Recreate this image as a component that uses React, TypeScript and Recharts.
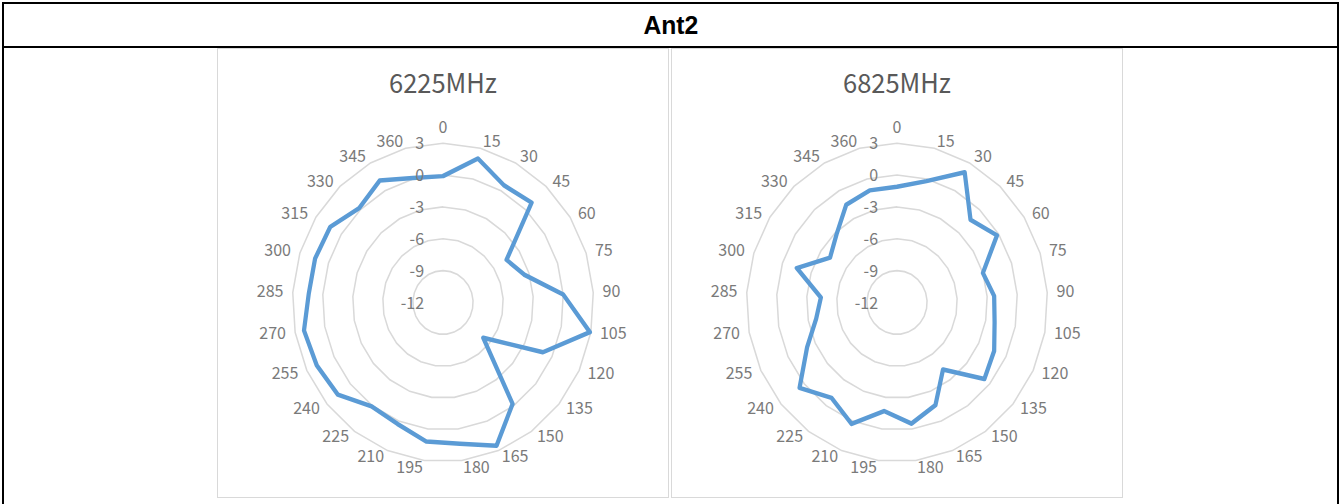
import React from 'react';
import { RadarChart, Radar, PolarGrid, PolarAngleAxis, PolarRadiusAxis } from 'recharts';

const tableTitle = 'Ant2';
const chartTitles = ['6225MHz', '6825MHz'];
const angleLabels = ['0', '15', '30', '45', '60', '75', '90', '105', '120', '135', '150', '165', '180', '195', '210', '225', '240', '255', '270', '285', '300', '315', '330', '345', '360'];
const gain6225 = [-0.1, 2.0, 0.6, 0.9, -4.5, -3.5, 0.0, 2.9, -1.0, -6.8, -0.2, 2.5, 1.4, 1.2, 0.3, 0.1, 1.6, 1.9, 2.1, 1.4, 1.4, 1.3, 0.2, 1.1, 0.1];
const gain6825 = [-1.1, -0.2, 2.0, -1.3, -0.2, -3.0, -2.3, -2.1, -1.3, -0.7, -4.2, -1.6, -0.5, -1.7, 0.3, -0.9, 0.6, -2.1, -3.8, -4.4, -1.5, -4.1, -3.2, -1.5, -1.1];
const radiusTicks = [-12, -9, -6, -3, 0, 3];

const SX = 0.945;
const PANEL_W = 452;
const PANEL_H = 450;
const CHART_W = Math.round(PANEL_W / SX);
const CX = 226 / SX;
const CY = 254.5;
const R = 159.3;
const FONT = "'Noto Sans CJK SC', 'Noto Sans', sans-serif";
const LABEL_FS = 17;
const LABEL_COLOR = '#7a7a7a';

function AngleTick(props: any) {
  const coord = props.payload?.coordinate ?? 90;
  const rad = (coord * Math.PI) / 180;
  const ux = Math.cos(rad);
  const uy = -Math.sin(rad);
  let x: number;
  let yc: number;
  let anchor: 'start' | 'end' | 'middle';
  if (Math.abs(ux) < 0.01) {
    x = CX;
    yc = CY + uy * (R + 16.5);
    anchor = 'middle';
  } else {
    x = CX + (R + 9.8) * ux;
    yc = CY + (R + 7) * uy - 0.8;
    anchor = ux > 0 ? 'start' : 'end';
  }
  return (
    <text x={x} y={yc + 0.36 * LABEL_FS} textAnchor={anchor} fontSize={LABEL_FS} fill={LABEL_COLOR} fontFamily={FONT} fontWeight={400}>
      {props.payload?.value}
    </text>
  );
}

function RadiusTick(props: any) {
  return (
    <text x={props.x - 20} y={props.y + 0.36 * LABEL_FS} textAnchor="end" fontSize={LABEL_FS} fill={LABEL_COLOR} fontFamily={FONT} fontWeight={400}>
      {props.payload?.value}
    </text>
  );
}

function Panel({ title, values, left }: { title: string; values: number[]; left: number }) {
  const data = angleLabels.map((a, i) => ({ angle: a, gain: values[i] }));
  return (
    <div style={{ position: 'absolute', left, top: 48, width: PANEL_W, height: PANEL_H, border: '1px solid #d9d9d9', boxSizing: 'border-box', overflow: 'hidden' }}>
      <div style={{ position: 'absolute', left: -1, top: -1, width: CHART_W, height: PANEL_H, transform: `scaleX(${SX})`, transformOrigin: '0 0' }}>
        <svg width={CHART_W} height={60} style={{ position: 'absolute', left: 0, top: 0 }}>
          <text x={CX} y={35 + 0.36 * 27} textAnchor="middle" fontSize={27} fill="#595959" fontFamily={FONT} fontWeight={400}>
            {title}
          </text>
        </svg>
        <div style={{ position: 'absolute', left: 0, top: 0 }}>
          <RadarChart width={CHART_W} height={PANEL_H} data={data} cx={CX} cy={CY} outerRadius={R} startAngle={90} endAngle={-270} margin={{ top: 0, right: 0, bottom: 0, left: 0 }}>
            <PolarGrid gridType="polygon" radialLines={false} stroke="#d9d9d9" strokeWidth={1.6} />
            <PolarAngleAxis dataKey="angle" tick={<AngleTick />} tickLine={false} axisLine={false} />
            <PolarRadiusAxis angle={90} type="number" domain={[-12, 3]} ticks={radiusTicks} tick={<RadiusTick />} tickLine={false} axisLine={false} allowDataOverflow />
            <Radar dataKey="gain" stroke="#5b9bd5" strokeWidth={4.5} fill="none" fillOpacity={0} dot={false} isAnimationActive={false} strokeLinejoin="round" />
          </RadarChart>
        </div>
      </div>
    </div>
  );
}

export default function App() {
  return (
    <div style={{ position: 'absolute', left: 0, top: 0, width: 1341, height: 504, background: '#fff', overflow: 'hidden' }}>
      <div style={{ position: 'absolute', left: 2, top: 2, width: 1337, height: 2, background: '#000' }} />
      <div style={{ position: 'absolute', left: 2, top: 46, width: 1337, height: 2, background: '#000' }} />
      <div style={{ position: 'absolute', left: 2, top: 2, width: 2, height: 502, background: '#000' }} />
      <div style={{ position: 'absolute', left: 1337, top: 2, width: 2, height: 502, background: '#000' }} />
      <div style={{ position: 'absolute', left: 4, top: 4, width: 1333, height: 42, display: 'flex', alignItems: 'center', justifyContent: 'center' }}>
        <span style={{ fontFamily: "'Liberation Sans', Arial, sans-serif", fontWeight: 700, fontSize: 26, color: '#000', display: 'inline-block', transform: 'scaleX(0.95)' }}>{tableTitle}</span>
      </div>
      <Panel title={chartTitles[0]} values={gain6225} left={217} />
      <Panel title={chartTitles[1]} values={gain6825} left={671} />
    </div>
  );
}
